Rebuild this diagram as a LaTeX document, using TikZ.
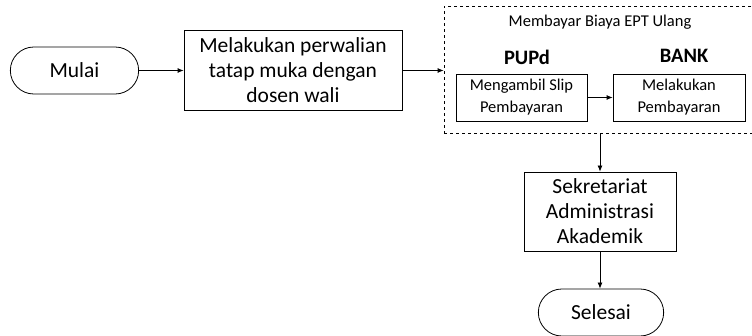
\documentclass[tikz,border=0pt]{standalone}
\usepackage{fontspec}
\setmainfont{Carlito}
\usetikzlibrary{arrows.meta,shapes.misc}

\tikzset{
  proses/.style={draw, thick, align=center, inner sep=2pt},
  terminal/.style={draw, thick, rounded rectangle, minimum width=135pt, minimum height=47pt},
  panah/.style={-{Latex[length=6pt,width=5pt]}, thick},
  besar/.style={font=\fontsize{21.5}{25}\selectfont},
  kecil/.style={font=\fontsize{16.5}{22}\selectfont}
}

\begin{document}
\begin{tikzpicture}[x=1pt, y=-1pt, line width=0.8pt]
        \useasboundingbox (0,0) rectangle (752,336);

        % Start and first step
        \node[terminal, besar] (mulai) at (74.5,70.5) {Mulai};
        \node[proses, besar, minimum width=218pt, minimum height=80pt] (perwalian) at (293,70.5)
            {Melakukan perwalian\\tatap muka dengan\\dosen wali};

        % Dashed group for the payment
        \node[draw, dashed, thick, minimum width=318pt, minimum height=127pt] (biaya) at (603,70) {};
        \node[kecil] (judul) at (600,22) {Membayar Biaya EPT Ulang};
        \node[font=\fontsize{20.5}{22}\selectfont\bfseries] (pupd) at (527,57) {PUPd};
        \node[font=\fontsize{20.5}{22}\selectfont\bfseries] (bank) at (684,56) {BANK};
        \node[proses, kecil, minimum width=131pt, minimum height=47pt] (slip) at (521.5,97.5)
            {Mengambil Slip\\Pembayaran};
        \node[proses, kecil, minimum width=132pt, minimum height=47pt] (bayar) at (679,97.5)
            {Melakukan\\Pembayaran};

        % Last steps
        \node[proses, besar, minimum width=152pt, minimum height=79pt] (sekretariat) at (600,211.5)
            {Sekretariat\\Administrasi\\Akademik};
        \node[terminal, besar, minimum width=132pt] (selesai) at (601,312.5) {Selesai};

        % Arrows
        \draw[panah] (mulai) -- (perwalian);
        \draw[panah] (perwalian) -- (biaya.west |- perwalian);
        \draw[panah] (slip) -- (bayar);
        \draw[panah] (biaya.south -| sekretariat.north) -- (sekretariat.north);
        \draw[panah] (sekretariat.south) -- (selesai.north -| sekretariat.south);
\end{tikzpicture}
\end{document}
